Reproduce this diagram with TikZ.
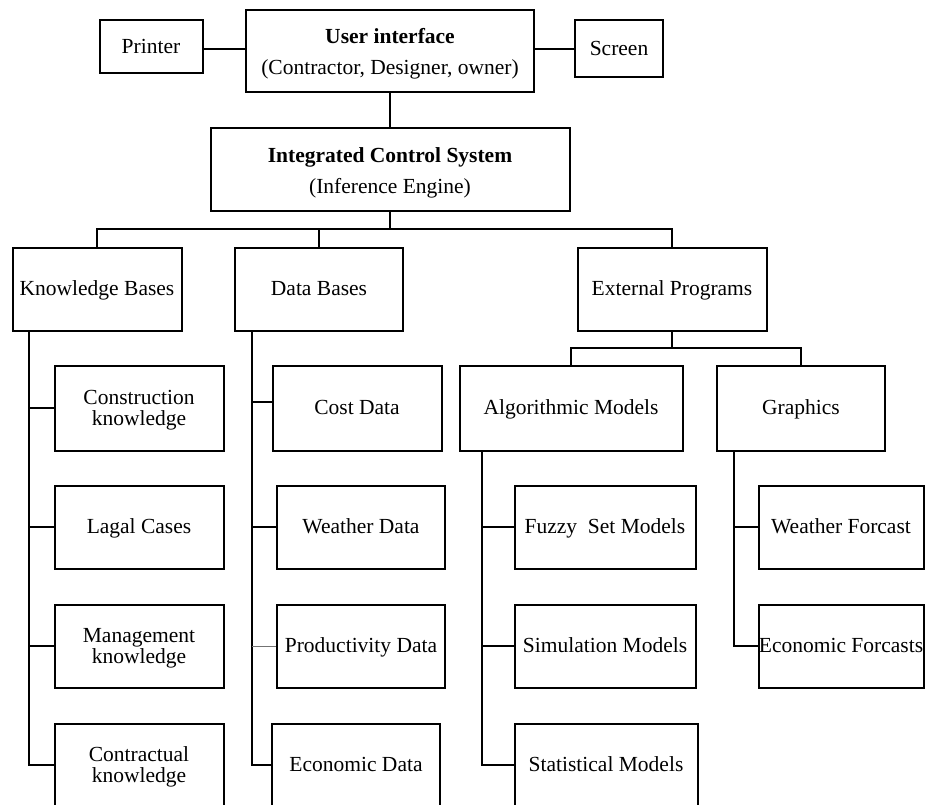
\documentclass[tikz,border=0pt]{standalone}
\usepackage{fontspec}
\setmainfont{Liberation Serif}
% strut that fixes where a single line of text sits in its box
\newcommand\linestrut{\rule[-5.8pt]{0pt}{24.8pt}}
\begin{document}
\begin{tikzpicture}[x=1pt,y=-1pt,
  box/.style={draw, line width=2pt, inner sep=0pt, align=center,
    font=\fontsize{21.5}{21}\selectfont, minimum height=83pt},
  link/.style={line width=2pt},
  faint link/.style={line width=1pt, black!55},
]
\useasboundingbox (0,0) rectangle (926,805);
\clip (0,0) rectangle (926,805);

% top: user interface and its devices
\node[box, minimum width=103pt, minimum height=53pt] (printer) at (151,47) {\linestrut Printer};
\node[box, minimum width=288pt, minimum height=82pt] (ui) at (390,51)
  {\rule{0pt}{20.5pt}\textbf{User interface}\\[10.7pt](Contractor, Designer, owner)};
\node[box, minimum width=88pt, minimum height=57pt] (screen) at (619,49) {\linestrut Screen};
\node[box, minimum width=359pt] (ics) at (390,170)
  {\rule{0pt}{20.2pt}\textbf{Integrated Control System}\\[10pt](Inference Engine)};

% first level
\node[box, minimum width=169pt] (kb) at (97,289) {\linestrut Knowledge Bases};
\node[box, minimum width=168pt] (db) at (319,289) {\linestrut Data Bases};
\node[box, minimum width=189pt] (ep) at (672,289) {\linestrut External Programs};

% second level
\node[box, minimum width=169pt, minimum height=85pt] (ck) at (139,408) {\rule{0pt}{18pt}Construction\\knowledge};
\node[box, minimum width=169pt, minimum height=85pt] (cd) at (357,408) {\linestrut Cost Data};
\node[box, minimum width=223pt, minimum height=85pt] (am) at (571,408) {\linestrut Algorithmic Models};
\node[box, minimum width=168pt, minimum height=85pt] (gr) at (801,408) {\linestrut Graphics};

% knowledge bases column
\node[box, minimum width=169pt] (lc) at (139,527) {\linestrut Lagal Cases};
\node[box, minimum width=169pt] (mk) at (139,646) {\rule{0pt}{18pt}Management\\knowledge};
\node[box, minimum width=169pt] (ctk) at (139,765) {\rule{0pt}{18pt}Contractual\\knowledge};

% data bases column
\node[box, minimum width=168pt] (wd) at (361,527) {\linestrut Weather Data};
\node[box, minimum width=168pt] (pd) at (361,646) {\linestrut Productivity Data};
\node[box, minimum width=168pt] (ed) at (356,765) {\linestrut Economic Data};

% algorithmic models column
\node[box, minimum width=181pt] (fz) at (605,527) {\linestrut Fuzzy\ \ Set Models};
\node[box, minimum width=181pt] (sim) at (605,646) {\linestrut Simulation Models};
\node[box, minimum width=183pt] (stat) at (606,765) {\linestrut Statistical Models};

% graphics column
\node[box, minimum width=165pt] (wf) at (841,527) {\linestrut Weather Forcast};
\node[box, minimum width=165pt] (ef) at (841,646) {\linestrut Economic Forcasts};

% connectors at the top
\draw[link] (printer.east |- screen.west) -- (ui.west |- screen.west);
\draw[link] (ui.east |- screen.west) -- (screen.west);
\draw[link] (ui.south) -- (ics.north);

% main bus
\coordinate (bus) at (390,229);
\draw[link] (ics.south) -- (bus);
\draw[link] (kb.north) |- (bus) -| (ep.north);
\draw[link] (db.north) -- (db.north |- bus);

% external programs bus
\coordinate (sbus) at (672,348);
\draw[link] (ep.south) -- (sbus);
\draw[link] (am.north) |- (sbus) -| (gr.north);

% trunks and branches
\coordinate (kbt) at ([xshift=-68pt]kb.south);
\draw[link] (kbt) |- (ctk.west);
\draw[link] (kbt |- ck.west) -- (ck.west);
\draw[link] (kbt |- lc.west) -- (lc.west);
\draw[link] (kbt |- mk.west) -- (mk.west);

\coordinate (dbt) at ([xshift=-67pt]db.south);
\draw[link] (dbt) |- (ed.west);
\draw[link] ([yshift=6pt]dbt |- cd.west) -- ([yshift=6pt]cd.west);
\draw[link] (dbt |- wd.west) -- (wd.west);
\draw[faint link] (dbt |- pd.west) -- (pd.west);

\coordinate (amt) at ([xshift=-89pt]am.south);
\draw[link] (amt) |- (stat.west);
\draw[link] (amt |- fz.west) -- (fz.west);
\draw[link] (amt |- sim.west) -- (sim.west);

\coordinate (grt) at ([xshift=-67pt]gr.south);
\draw[link] (grt) |- (ef.west);
\draw[link] (grt |- wf.west) -- (wf.west);
\end{tikzpicture}
\end{document}
